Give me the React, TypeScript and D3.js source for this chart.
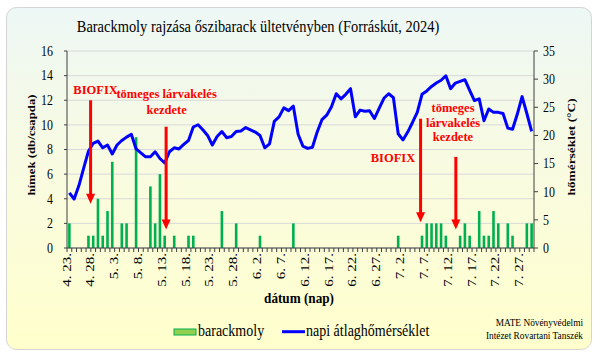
import React from "react";
import * as d3 from "d3";

// ---- data ----
const startDate = new Date(2024, 3, 23);
const endDate = new Date(2024, 6, 30); // exclusive -> last day 7.29
const days = d3.timeDay.range(startDate, endDate);
const dayLabels = days.map((d) => `${d.getMonth() + 1}. ${d.getDate()}.`);

const mothCounts = [
  2, 0, 0, 0, 1, 1, 4, 1, 3, 7,
  0, 2, 2, 0, 9, 0, 0, 5, 2, 6,
  1, 0, 1, 0, 0, 1, 1, 0, 0, 0,
  0, 0, 3, 0, 0, 2, 0, 0, 0, 0,
  1, 0, 0, 0, 0, 0, 0, 2, 0, 0,
  0, 0, 0, 0, 0, 0, 0, 0, 0, 0,
  0, 0, 0, 0, 0, 0, 0, 0, 0, 1,
  0, 0, 0, 0, 1, 2, 2, 2, 2, 1,
  0, 0, 1, 2, 1, 0, 3, 1, 1, 3,
  2, 0, 2, 1, 0, 0, 2, 2,
];

const dailyTemp = [
  9.8, 8.7, 11.1, 14.2, 17.2, 18.6, 19.0, 17.8, 18.3, 16.7,
  18.3, 19.1, 19.7, 20.2, 17.6, 16.9, 16.2, 16.2, 17.1, 15.9,
  15.1, 17.1, 17.8, 17.6, 18.4, 19.1, 21.5, 21.9, 21.0, 20.0,
  18.3, 19.8, 20.7, 19.6, 19.8, 20.7, 20.8, 21.4, 21.0, 20.6,
  20.0, 17.8, 18.5, 22.5, 23.3, 24.9, 24.4, 25.2, 20.2, 18.1,
  17.7, 17.9, 20.6, 22.8, 23.6, 25.1, 27.4, 26.5, 27.3, 28.3,
  23.3, 24.5, 24.3, 24.4, 23.0, 24.8, 26.6, 27.4, 26.7, 20.3,
  19.2, 20.6, 22.3, 24.1, 27.3, 27.9, 28.7, 29.3, 29.8, 30.6,
  28.3, 29.3, 29.6, 29.9, 28.0, 26.2, 26.5, 22.6, 24.7, 24.1,
  24.1, 23.9, 21.3, 21.1, 23.8, 26.9, 23.9, 20.7,
];

const leftTicks = [0, 2, 4, 6, 8, 10, 12, 14, 16];
const rightTicks = [0, 5, 10, 15, 20, 25, 30, 35];

const title = "Barackmoly rajzása őszibarack ültetvényben (Forráskút, 2024)";
const leftTitle = "hímek (db/csapda)";
const rightTitle = "hőmérséklet (°C)";
const xTitle = "dátum (nap)";
const legendLabels = ["barackmoly", "napi átlaghőmérséklet"];
const credit = ["MATE Növényvédelmi", "Intézet Rovartani Tanszék"];

// annotations: x in day index, y in left-axis units
const arrows = [
  { x: 4.45, top: 12, tip: 3.6 },
  { x: 20.3, top: 9.85, tip: 1.5 },
  { x: 73.7, top: 10.5, tip: 2.1 },
  { x: 81.1, top: 7.4, tip: 1.5 },
];
const notes = [
  { x: 5.5, lines: ["BIOFIX"], ys: [12.5] },
  { x: 20.4, lines: ["tömeges lárvakelés", "kezdete"], ys: [12.16, 10.9] },
  { x: 67.9, lines: ["BIOFIX"], ys: [7.0] },
  { x: 80.5, lines: ["tömeges", "lárvakelés", "kezdete"], ys: [11.02, 9.85, 8.68] },
];

const W = 605;
const H = 359;
const FONT = "Liberation Serif, Times New Roman, serif";

function T({ x, y, size, weight, anchor, fill, rotate, baseline, sx, children }: any) {
  const s = sx ?? 0.85;
  const tr = `translate(${x},${y}) scale(${s},1)${rotate ? ` rotate(${rotate})` : ""}`;
  return (
    <text
      transform={tr}
      textAnchor={anchor || "start"}
      fill={fill || "#000"}
      dominantBaseline={baseline || "auto"}
      style={{ fontFamily: FONT, fontSize: `${size}px`, fontWeight: weight || "normal" }}
    >
      {children}
    </text>
  );
}

export default function App() {
  const left = 67;
  const right = 534;
  const top = 51;
  const bottom = 248;

  const x = d3.scaleBand<number>().domain(d3.range(days.length)).range([left, right]).padding(0);
  const bw = x.bandwidth();
  const cx = (i: number) => left + (i + 0.5) * bw;
  const yL = d3.scaleLinear().domain([0, 16]).range([bottom, top]);
  const yR = d3.scaleLinear().domain([0, 35]).range([bottom, top]);

  const line = d3
    .line<number>()
    .x((_, i) => cx(i))
    .y((d) => yR(d))
    .curve(d3.curveLinear);

  const barW = 2.6;

  return (
    <svg width={W} height={H} style={{ position: "absolute", left: 0, top: 0 }}>
      <defs>
        <linearGradient id="bg" x1="0" y1="0" x2="0" y2="1">
          <stop offset="0" stopColor="#edf7f5" />
          <stop offset="0.45" stopColor="#f8fbe1" />
          <stop offset="1" stopColor="#ffffcc" />
        </linearGradient>
      </defs>
      <rect x={0} y={0} width={W} height={H} fill="#fff" />
      <rect x={6.5} y={7.5} width={585} height={342} rx={10} fill="url(#bg)" stroke="#d4d4d4" />

      {/* title */}
      <T x={258} y={32} size={17} anchor="middle">{title}</T>

      {/* gridlines */}
      {leftTicks.map((t) => (
        <line key={t} x1={left} x2={right} y1={yL(t)} y2={yL(t)} stroke="#d9d9d9" strokeWidth={1} />
      ))}

      {/* bars */}
      {mothCounts.map((v, i) =>
        v > 0 ? (
          <rect key={i} x={cx(i) - barW / 2} y={yL(v)} width={barW} height={bottom - yL(v)} fill="#00b050" />
        ) : null
      )}

      {/* temperature line */}
      <path d={line(dailyTemp) || ""} fill="none" stroke="#0000ff" strokeWidth={3} strokeLinejoin="round" />

      {/* axes */}
      <line x1={left} x2={left} y1={top} y2={bottom} stroke="#404040" />
      <line x1={right} x2={right} y1={top} y2={bottom} stroke="#404040" />
      <line x1={left} x2={right} y1={bottom} y2={bottom} stroke="#404040" />
      {d3.range(days.length + 1).map((i) => (
        <line key={i} x1={left + i * bw} x2={left + i * bw} y1={bottom} y2={bottom + 4} stroke="#404040" />
      ))}
      {leftTicks.map((t) => (
        <line key={t} x1={left - 3} x2={left} y1={yL(t)} y2={yL(t)} stroke="#404040" />
      ))}
      {rightTicks.map((t) => (
        <line key={t} x1={right} x2={right + 4} y1={yR(t)} y2={yR(t)} stroke="#404040" />
      ))}

      {/* tick labels */}
      {leftTicks.map((t) => (
        <T key={t} x={53} y={yL(t)} size={14} anchor="end" baseline="central">{t}</T>
      ))}
      {rightTicks.map((t) => (
        <T key={t} x={543} y={yR(t)} size={14} baseline="central">{t}</T>
      ))}
      {dayLabels.map((lab, i) =>
        i % 5 === 0 ? (
          <T key={i} x={cx(i) - 3} y={bottom + 5} size={15} anchor="end" baseline="central" rotate={-90}>
            {lab}
          </T>
        ) : null
      )}

      {/* axis titles */}
      <T x={31} y={145} size={12.8} weight="bold" anchor="middle" baseline="central" rotate={-90}>{leftTitle}</T>
      <T x={571} y={147} size={13.4} weight="bold" anchor="middle" baseline="central" rotate={-90}>{rightTitle}</T>
      <T x={299} y={303} size={15.5} weight="bold" anchor="middle">{xTitle}</T>

      {/* annotations */}
      {arrows.map((a, k) => {
        const ax = cx(a.x);
        const yt = yL(a.top);
        const yp = yL(a.tip);
        return (
          <g key={k}>
            <line x1={ax} x2={ax} y1={yt} y2={yp - 9} stroke="#ff0000" strokeWidth={3} />
            <path d={`M${ax - 4.5},${yp - 10} L${ax + 4.5},${yp - 10} L${ax},${yp} Z`} fill="#ff0000" />
          </g>
        );
      })}
      {notes.map((n, k) =>
        n.lines.map((l, j) => (
          <T key={`${k}-${j}`} x={cx(n.x)} y={yL(n.ys[j])} size={12.5} sx={1} weight="bold" anchor="middle" fill="#ff0000">
            {l}
          </T>
        ))
      )}

      {/* legend */}
      <rect x={174} y={329} width={22} height={6} fill="#92d050" stroke="#00b050" strokeWidth={1} />
      <T x={198} y={336} size={16.5}>{legendLabels[0]}</T>
      <line x1={282} x2={305} y1={331.7} y2={331.7} stroke="#0000ff" strokeWidth={3} />
      <T x={306} y={336} size={16.5}>{legendLabels[1]}</T>

      {/* credit */}
      <T x={583} y={326} size={11} anchor="end">{credit[0]}</T>
      <T x={583} y={338.5} size={11} anchor="end">{credit[1]}</T>
    </svg>
  );
}
